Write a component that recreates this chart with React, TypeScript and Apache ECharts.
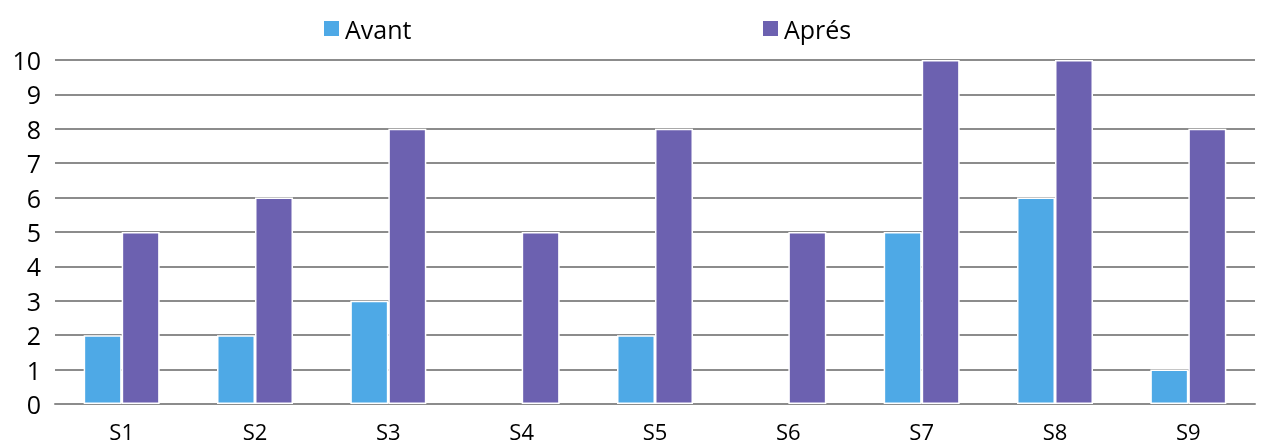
import React, { useEffect, useRef } from "react";
import * as echarts from "echarts";

const categories = ["S1", "S2", "S3", "S4", "S5", "S6", "S7", "S8", "S9"];
const avant = [2, 2, 3, 0, 2, 0, 5, 6, 1];
const apres = [5, 6, 8, 5, 8, 5, 10, 10, 8];
const seriesNames = ["Avant", "Aprés"];
const yMin = 0;
const yMax = 10;
const yInterval = 1;

const FONT = "'Open Sans', 'Noto Sans', sans-serif";

const toItems = (arr: number[]) =>
  arr.map((v) => ({ value: v, itemStyle: { borderWidth: v === 0 ? 0 : 1.5 } }));

export default function App() {
  const ref = useRef<HTMLDivElement>(null);
  useEffect(() => {
    if (!ref.current) return;
    const chart = echarts.init(ref.current, null, { renderer: "svg" });
    const legendCommon = {
      top: 11,
      itemWidth: 17,
      itemHeight: 17,
      itemGap: 6,
      icon: "rect",
      textStyle: { fontSize: 25, color: "#000", fontFamily: FONT },
    };
    chart.setOption({
      animation: false,
      textStyle: { fontFamily: FONT },
      legend: [
        { ...legendCommon, data: [seriesNames[0]], left: 317 },
        { ...legendCommon, data: [seriesNames[1]], left: 756 },
      ],
      grid: { left: 55, right: 8, top: 60, bottom: 43, containLabel: false },
      xAxis: {
        type: "category",
        data: categories,
        axisLine: { show: true, lineStyle: { color: "#8c8c8c", width: 2 } },
        axisTick: { show: false },
        axisLabel: { fontSize: 22, lineHeight: 22, color: "#000", margin: 16, fontFamily: FONT },
      },
      yAxis: {
        type: "value",
        min: yMin,
        max: yMax,
        interval: yInterval,
        axisLine: { show: false },
        axisTick: { show: false },
        axisLabel: { fontSize: 25, color: "#000", margin: 14, fontFamily: FONT },
        splitLine: { lineStyle: { color: "#8c8c8c", width: 2 } },
      },
      series: [
        {
          name: seriesNames[0],
          type: "bar",
          data: toItems(avant),
          barWidth: 38,
          barGap: "0%",
          itemStyle: { color: "#4EA9E6", borderColor: "#ffffff", borderWidth: 1.5 },
        },
        {
          name: seriesNames[1],
          type: "bar",
          data: toItems(apres),
          barWidth: 38,
          itemStyle: { color: "#6C61B0", borderColor: "#ffffff", borderWidth: 1.5 },
        },
      ],
    });
    return () => chart.dispose();
  }, []);
  return (
    <div
      ref={ref}
      style={{ position: "fixed", left: 0, top: 0, width: 1263, height: 447 }}
    />
  );
}
